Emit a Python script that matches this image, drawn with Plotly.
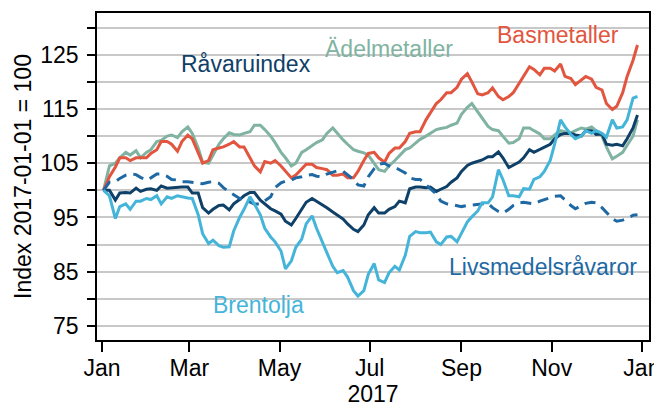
import pandas as pd
import plotly.graph_objects as go

# Sampling dates: Fridays (plus the Jan 2 start) and mid-week Tuesdays
dates_fri = ["2017-01-02", "2017-01-06", "2017-01-13", "2017-01-20", "2017-01-27",
             "2017-02-03", "2017-02-10", "2017-02-17", "2017-02-24",
             "2017-03-03", "2017-03-10", "2017-03-17", "2017-03-24", "2017-03-31",
             "2017-04-07", "2017-04-14", "2017-04-21", "2017-04-28",
             "2017-05-05", "2017-05-12", "2017-05-19", "2017-05-26",
             "2017-06-02", "2017-06-09", "2017-06-16", "2017-06-23", "2017-06-30",
             "2017-07-07", "2017-07-14", "2017-07-21", "2017-07-28",
             "2017-08-04", "2017-08-11", "2017-08-18", "2017-08-25",
             "2017-09-01", "2017-09-08", "2017-09-15", "2017-09-22", "2017-09-29",
             "2017-10-06", "2017-10-13", "2017-10-20", "2017-10-27",
             "2017-11-03", "2017-11-10", "2017-11-17", "2017-11-24",
             "2017-12-01", "2017-12-08", "2017-12-15", "2017-12-22", "2017-12-29"]
dates_tue = ["2017-01-10", "2017-01-17", "2017-01-24", "2017-01-31",
             "2017-02-07", "2017-02-14", "2017-02-21", "2017-02-28",
             "2017-03-07", "2017-03-14", "2017-03-21", "2017-03-28",
             "2017-04-04", "2017-04-11", "2017-04-18", "2017-04-25",
             "2017-05-02", "2017-05-09", "2017-05-16", "2017-05-23", "2017-05-30",
             "2017-06-06", "2017-06-13", "2017-06-20", "2017-06-27",
             "2017-07-04", "2017-07-11", "2017-07-18", "2017-07-25",
             "2017-08-01", "2017-08-08", "2017-08-15", "2017-08-22", "2017-08-29",
             "2017-09-05", "2017-09-12", "2017-09-19", "2017-09-26",
             "2017-10-03", "2017-10-10", "2017-10-17", "2017-10-24", "2017-10-31",
             "2017-11-07", "2017-11-14", "2017-11-21", "2017-11-28",
             "2017-12-05", "2017-12-12", "2017-12-19", "2017-12-26"]

basmetaller_fri = [100, 102.5, 106, 105.5, 106, 106.8, 109, 108.5, 109, 109.5,
                   105, 107.5, 108, 109, 108, 104.5, 105.3, 105.5, 103.5, 102.8,
                   104.8, 104.2, 103.8, 102.8, 102.3, 103.5, 106.8, 106, 106.8, 107.8,
                   110.5, 110.8, 114.3, 116.7, 118, 120.5, 120, 117.6, 118.9, 116.7,
                   118, 121, 122.3, 122.5, 122, 121, 119.5, 121, 119, 116,
                   115.5, 121, 126.8]
basmetaller_tue = [104.3, 106, 106, 106, 107.5, 109, 107.2, 110.2,
                   107, 105.5, 107.8, 108.5, 108, 106, 103.4, 105,
                   104.5, 102.3, 104, 104.8, 104, 102.8, 103, 102.3, 105.5,
                   107, 105.2, 107.8, 109, 110.8, 113, 116, 118, 119,
                   121.5, 117.8, 118, 117.3, 117.3, 119.8, 122.8, 121.3, 122.5,
                   123.3, 120.6, 120.4, 120.5, 118.5, 114.9, 118, 124]

adelmetaller_fri = [100, 104.5, 106, 106.5, 106, 107.5, 109.2, 110.2, 110.8, 110.5,
                    105.2, 106.5, 109.5, 110.3, 110.5, 112, 111.2, 108.8, 106, 105,
                    107.5, 108.8, 110.5, 110.5, 108.5, 107.2, 106.5, 103.8, 104.5, 106.3,
                    107.8, 109.4, 110.5, 111.4, 112, 114, 116, 113.5, 111.2, 110,
                    108.8, 111.5, 111, 109.5, 110.2, 110.8, 111, 111.3, 111, 108,
                    106.3, 108.3, 113]
adelmetaller_tue = [105, 107, 107.3, 107, 109, 110, 109.7, 111.7,
                    107.8, 105, 108.5, 110.6, 110.2, 110.8, 112, 110,
                    107, 104.5, 107, 108.2, 109.3, 111.5, 109.3, 107.5, 106.9,
                    105, 103.5, 105.5, 107.5, 108.8, 110, 111.2, 111.6, 112.4,
                    115.3, 114.5, 111.8, 111, 108.7, 109.5, 111.5, 110.4, 109.5,
                    111, 110.6, 111.5, 111.7, 110, 105.8, 107, 110]

ravaruindex_fri = [100, 100, 99.5, 99.5, 99.8, 100.3, 100.8, 100.5, 100.6, 99.5,
                   96.8, 96.5, 97.3, 97.5, 99, 99.6, 97.5, 96.2, 94.3, 94.8,
                   97.8, 98, 96.8, 95.5, 93.8, 92.4, 95.5, 95.8, 96.5, 98,
                   100.3, 100.6, 100.6, 100.2, 101.5, 103.5, 105, 105.6, 106.2, 106,
                   104.6, 106, 107, 108, 109.5, 110.5, 110.2, 111, 110.3, 108.5,
                   108.5, 109.5, 113.9]
ravaruindex_tue = [98.2, 99.6, 100.4, 100.2, 100, 100.4, 100.6, 100.6,
                   99.5, 95.8, 97.2, 96.4, 98.3, 99.6, 98.2, 96.6,
                   95.6, 93.6, 96.5, 98.5, 97.3, 96, 94.7, 92.8, 93.6,
                   96.8, 95.8, 97, 97.7, 100.6, 100.5, 99.8, 100.7, 102.3,
                   104.6, 105.3, 106.2, 107.1, 104.2, 105.2, 107.5, 107.5, 108.5,
                   110.3, 110.5, 110, 111, 110.4, 108.3, 108.2, 111.5]

brentolja_fri = [100, 99, 97, 96.5, 98, 98.3, 97.5, 98.5, 98.8, 98.5,
                 92, 90.8, 89.5, 92.5, 96.5, 97.5, 93, 90.5, 85.5, 89.5,
                 93.8, 93, 88.5, 84.8, 84, 80.5, 84.5, 83.5, 84.8, 85.3,
                 91.5, 92.2, 92.3, 90, 91.5, 92, 95.1, 97.7, 98.8, 102,
                 99, 100.3, 102, 103.5, 108.5, 111.7, 109.5, 111, 111, 109.8,
                 111.5, 113, 117.3]
brentolja_tue = [94.8, 97.5, 98, 98.5, 99, 98.8, 99, 98.6,
                 95.5, 90.2, 89.8, 89.6, 95, 98.8, 95.5, 91.4,
                 88.8, 87, 91, 95.3, 90.3, 86, 85.2, 81.5, 81.5,
                 86.5, 83, 86, 88, 92.4, 92.2, 90.5, 91.4, 90.5,
                 94.2, 96.2, 97.7, 103.8, 99, 98.8, 100.2, 102.5, 105.5,
                 113, 110.3, 110, 110.5, 110.5, 113, 111.7, 117]

livsmedel_fri = [100, 101.5, 102.2, 103, 102.4, 102.3, 103, 102, 101.6, 101.5,
                 101.2, 101.6, 100.5, 99.2, 98.3, 97.5, 98, 100.5, 101.7, 102.3,
                 102.8, 102.6, 103, 103.6, 102.8, 101, 102.5, 104.8, 104.5, 103.8,
                 102.3, 102, 100.3, 98, 97.4, 97, 97.3, 97.5, 96.8, 95.8,
                 97.2, 97.8, 97.5, 98.3, 98.9, 98.2, 96.6, 97.6, 97.7, 96,
                 94.3, 94.8, 95.5]
livsmedel_tue = [101.6, 102.8, 102.9, 101.9, 103, 102.6, 101.9, 101.6,
                 101.4, 101.5, 101.3, 99.7, 98.5, 97.8, 97.5, 98.8,
                 101.4, 101.9, 102.5, 102.9, 102.5, 103.4, 103.5, 102, 100.8,
                 104, 105, 104.2, 103.2, 102, 101, 99.3, 97.5, 97.2,
                 97.2, 97.3, 97.6, 96.1, 96.5, 97.7, 97.6, 98, 98.7,
                 99, 97.2, 97.2, 97.8, 96.8, 94.8, 94.5, 95.4]

y_ticks = [75, 80, 85, 90, 95, 100, 105, 110, 115, 120, 125, 130]
y_tick_labels = ["75", "", "85", "", "95", "", "105", "", "115", "", "125", ""]
x_ticks = ["2017-01-01", "2017-03-01", "2017-05-01", "2017-07-01",
           "2017-09-01", "2017-11-01", "2018-01-01"]
x_tick_labels = ["Jan", "Mar", "May", "Jul", "Sep", "Nov", "Jan"]

C_BAS = "#e2553f"
C_ADEL = "#80b3a1"
C_RAV = "#0f4068"
C_BRENT = "#45b4d9"
C_LIVS = "#1e69a4"

FONT = "Liberation Sans, Arial, sans-serif"
FS = 23


def combine(fri, tue):
    df = pd.DataFrame({"date": pd.to_datetime(dates_fri + dates_tue),
                       "value": fri + tue})
    return df.sort_values("date")


fig = go.Figure()
series = [
    ("Ädelmetaller", adelmetaller_fri, adelmetaller_tue, C_ADEL, "solid"),
    ("Basmetaller", basmetaller_fri, basmetaller_tue, C_BAS, "solid"),
    ("Råvaruindex", ravaruindex_fri, ravaruindex_tue, C_RAV, "solid"),
    ("Livsmedelsråvaror", livsmedel_fri, livsmedel_tue, C_LIVS, "11px,7px"),
    ("Brentolja", brentolja_fri, brentolja_tue, C_BRENT, "solid"),
]
for name, fri, tue, col, dash in series:
    df = combine(fri, tue)
    fig.add_trace(go.Scatter(x=df["date"], y=df["value"], mode="lines", name=name,
                             line=dict(color=col, width=3, dash=dash)))

labels = [
    ("Basmetaller", "2017-11-05", 128.7, C_BAS),
    ("Ädelmetaller", "2017-07-14", 126.1, C_ADEL),
    ("Råvaruindex", "2017-04-08", 123.3, C_RAV),
    ("Brentolja", "2017-04-17", 78.9, C_BRENT),
    ("Livsmedelsråvaror", "2017-10-26", 85.9, C_LIVS),
]
for txt, xd, yv, col in labels:
    fig.add_annotation(x=xd, y=yv, text=txt, showarrow=False,
                       font=dict(family=FONT, size=FS, color=col),
                       xanchor="center", yanchor="middle")

# The page body adds an 8px offset, so the figure is 8px smaller than the window
fig.update_layout(
    width=654, height=400,
    margin=dict(l=89, r=13, t=5, b=68),
    paper_bgcolor="white", plot_bgcolor="white",
    showlegend=False,
    font=dict(family=FONT, size=FS, color="black"),
)
fig.update_xaxes(
    range=["2016-12-28 14:00", "2018-01-05 19:00"],
    tickvals=x_ticks, ticktext=x_tick_labels,
    ticks="outside", ticklen=10, tickwidth=1.5, tickcolor="black",
    showline=True, linecolor="black", linewidth=1.5, mirror=True,
    showgrid=False, zeroline=False, automargin=False,
    title=dict(text="2017", standoff=3, font=dict(size=FS)),
    tickfont=dict(size=FS),
    ticklabelstandoff=-3,
)
fig.update_yaxes(
    range=[72.4, 132.7],
    tickvals=y_ticks, ticktext=y_tick_labels,
    ticks="outside", ticklen=8, tickwidth=1.5, tickcolor="black",
    showline=True, linecolor="black", linewidth=1.5, mirror=True,
    showgrid=True, gridcolor="#c8c8c8", gridwidth=1.5, zeroline=False,
    automargin=False,
    title=dict(text="Index 2017-01-01 = 100", standoff=2, font=dict(size=FS)),
    tickfont=dict(size=FS),
    ticklabelstandoff=4,
)

fig.write_html("out.html")
